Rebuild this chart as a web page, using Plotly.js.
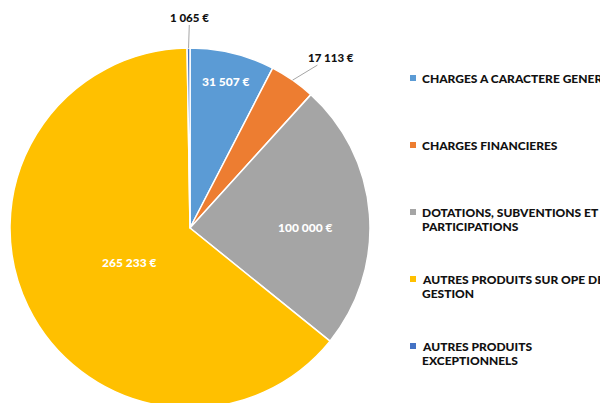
<!DOCTYPE html>
<html><head><meta charset="utf-8">
<script src="https://cdn.plot.ly/plotly-3.0.1.min.js"></script>
<style>html,body{margin:0;padding:0;width:600px;height:403px;overflow:hidden;background:#fff}#chart{width:600px;height:420px}</style>
</head><body><div id="chart"></div><script>
// ---- data ----
const labels = ['CHARGES A CARACTERE GENERAL', 'CHARGES FINANCIERES', 'DOTATIONS, SUBVENTIONS ET PARTICIPATIONS', 'AUTRES PRODUITS SUR OPE DE GESTION', 'AUTRES PRODUITS EXCEPTIONNELS'];
const values = [31507, 17113, 100000, 265233, 1065];
const colors = ['#5B9BD5', '#ED7D31', '#A5A5A5', '#FFC000', '#4472C4'];

// ---- label placement style (not data) ----
const labelMode = ['inside', 'outside', 'inside', 'inside', 'outside'];
const insideFrac = [0.89, 0, 0.64, 0.537, 0];
const labelAngleAdj = [-0.6, 0, 4.1, 5.2, 0]; // degrees
const outsideOffset = [null, [38, -23], null, null, [1, -31]];

const W = 600, H = 420, CX = 190, CY = 228, R = 180;
const FONT = 'Lato, "Open Sans", sans-serif';

function fmt(v) { return String(v).replace(/\B(?=(\d{3})+(?!\d))/g, ' ') + ' €'; }
function wrap(s, n) {
  const words = s.split(' '); const lines = []; let cur = '';
  words.forEach(w => { const t = cur ? cur + ' ' + w : w; if (t.length > n && cur) { lines.push(cur); cur = w; } else cur = t; });
  if (cur) lines.push(cur); return lines;
}
const px = x => x / W, py = y => (H - y) / H;

const total = values.reduce((a, b) => a + b, 0);
let cum = 0;
const annotations = [], shapes = [];
values.forEach((v, i) => {
  const a0 = cum / total * 2 * Math.PI; cum += v;
  const a1 = cum / total * 2 * Math.PI;
  const mid = (a0 + a1) / 2;
  if (labelMode[i] === 'inside') {
    const f = insideFrac[i] * R;
    const a = mid + labelAngleAdj[i] * Math.PI / 180;
    annotations.push({ xref: 'paper', yref: 'paper', x: px(CX + f * Math.sin(a)), y: py(CY - f * Math.cos(a)),
      text: fmt(v), showarrow: false, font: { family: FONT, size: 12, color: '#ffffff', weight: 900 } });
  } else {
    annotations.push({ xref: 'paper', yref: 'paper', x: px(CX + R * Math.sin(mid)), y: py(CY - R * Math.cos(mid)),
      text: fmt(v), showarrow: true, arrowhead: 0, arrowwidth: 1, arrowcolor: '#A6A6A6',
      ax: outsideOffset[i][0], ay: outsideOffset[i][1], standoff: 0,
      font: { family: FONT, size: 11.5, color: '#111111', weight: 900 } });
  }
});

// legend (custom, Excel-like)
labels.forEach((lab, i) => {
  const top = 78 + i * 67;
  wrap(lab, 27).forEach((ln, j) => {
    annotations.push({ xref: 'paper', yref: 'paper', x: px(420), xanchor: 'left', y: py(top + j * 14.5), yanchor: 'middle',
      text: ln, showarrow: false, font: { family: FONT, size: 12, color: '#111111', weight: 900 } });
  });
  shapes.push({ type: 'rect', xref: 'paper', yref: 'paper', x0: px(410), x1: px(416), y0: py(top - 3), y1: py(top + 3),
    fillcolor: colors[i], line: { width: 0 } });
});

const trace = {
  type: 'pie', labels: labels, values: values, sort: false, direction: 'clockwise', rotation: 0,
  marker: { colors: colors, line: { color: '#ffffff', width: 1.5 } },
  textinfo: 'none', hoverinfo: 'label+value', showlegend: false,
  domain: { x: [(CX - R) / W, (CX + R) / W], y: [(H - CY - R) / H, (H - CY + R) / H] }
};

Plotly.newPlot('chart', [trace], {
  width: W, height: H, margin: { l: 0, r: 0, t: 0, b: 0 }, paper_bgcolor: '#ffffff',
  showlegend: false, annotations: annotations, shapes: shapes
}, { displayModeBar: false, staticPlot: true });
</script></body></html>
